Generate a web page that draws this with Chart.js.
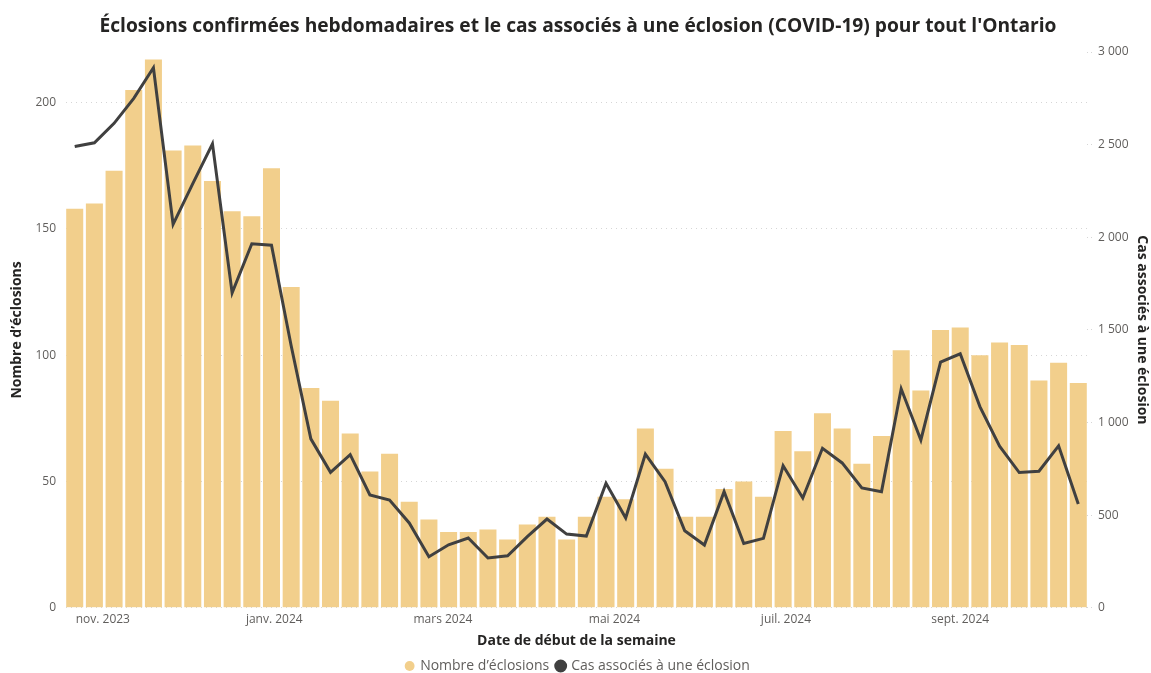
<!DOCTYPE html>
<html lang="fr">
<head>
    <meta charset="UTF-8">
    <title>Éclosions confirmées hebdomadaires</title>
    <style>
        html, body { margin: 0; padding: 0; background: #ffffff; }
        #wrap { width: 1151px; height: 673px; }
    </style>
</head>
<body>
    <div id="wrap"><canvas id="chart" width="1151" height="673"></canvas></div>

    <script src="https://cdn.jsdelivr.net/npm/chart.js"></script>
    <script>
        // week start dates (one bar per week)
        const weekStarts = [
            '2023-10-22', '2023-10-29', '2023-11-05', '2023-11-12', '2023-11-19', '2023-11-26',
            '2023-12-03', '2023-12-10', '2023-12-17', '2023-12-24', '2023-12-31',
            '2024-01-07', '2024-01-14', '2024-01-21', '2024-01-28',
            '2024-02-04', '2024-02-11', '2024-02-18', '2024-02-25',
            '2024-03-03', '2024-03-10', '2024-03-17', '2024-03-24', '2024-03-31',
            '2024-04-07', '2024-04-14', '2024-04-21', '2024-04-28',
            '2024-05-05', '2024-05-12', '2024-05-19', '2024-05-26',
            '2024-06-02', '2024-06-09', '2024-06-16', '2024-06-23', '2024-06-30',
            '2024-07-07', '2024-07-14', '2024-07-21', '2024-07-28',
            '2024-08-04', '2024-08-11', '2024-08-18', '2024-08-25',
            '2024-09-01', '2024-09-08', '2024-09-15', '2024-09-22', '2024-09-29',
            '2024-10-06', '2024-10-13'
        ];

        // Nombre d'éclosions (left axis)
        const outbreaks = [
            158, 160, 173, 205, 217, 181, 183, 169, 157, 155, 174, 127, 87,
            82, 69, 54, 61, 42, 35, 30, 30, 31, 27, 33, 36, 27,
            36, 44, 43, 71, 55, 36, 36, 47, 50, 44, 70, 62, 77,
            71, 57, 68, 102, 86, 110, 111, 100, 105, 104, 90, 97, 89
        ];

        // Cas associés à une éclosion (right axis)
        const cases = [
            2490, 2510, 2615, 2750, 2915, 2070, 2290, 2505, 1700, 1965, 1957, 1415, 912,
            731, 827, 609, 582, 458, 276, 340, 377, 269, 281, 384, 479, 398,
            387, 672, 485, 830, 681, 416, 339, 627, 347, 375, 767, 593, 861,
            782, 647, 627, 1182, 906, 1326, 1371, 1086, 872, 730, 737, 874, 560
        ];

        const monthTicks = ['2023-11-01', '2024-01-01', '2024-03-01', '2024-05-01', '2024-07-01', '2024-09-01'];
        const monthLabels = ['nov. 2023', 'janv. 2024', 'mars 2024', 'mai 2024', 'juil. 2024', 'sept. 2024'];

        const DAY = 86400000;
        const origin = Date.parse(weekStarts[0]);
        function dayOf(s) { return (Date.parse(s) - origin) / DAY; }

        const barPoints = weekStarts.map((d, i) => ({ x: dayOf(d), y: outbreaks[i] }));
        const linePoints = weekStarts.map((d, i) => ({ x: dayOf(d), y: cases[i] }));
        const tickDays = monthTicks.map(dayOf);

        const FONT = "'Open Sans', 'Noto Sans', sans-serif";
        const GRAY = '#605E5C';
        const DARK = '#252423';

        new Chart(document.getElementById('chart'), {
            data: {
                datasets: [
                    {
                        type: 'bar',
                        label: 'Nombre d\u2019éclosions',
                        data: barPoints,
                        yAxisID: 'y',
                        backgroundColor: '#F2CF8C',
                        borderWidth: 0,
                        barPercentage: 0.865,
                        categoryPercentage: 1.0,
                        pointStyle: 'circle',
                        order: 2
                    },
                    {
                        type: 'line',
                        label: 'Cas associés à une éclosion',
                        data: linePoints,
                        yAxisID: 'y2',
                        borderColor: '#404040',
                        backgroundColor: '#404040',
                        borderWidth: 3,
                        pointRadius: 0,
                        pointStyle: 'circle',
                        tension: 0,
                        order: 1
                    }
                ]
            },
            options: {
                responsive: false,
                animation: false,
                layout: { padding: { left: 5, right: 0, top: 6, bottom: -10 } },
                plugins: {
                    title: {
                        display: true,
                        text: "Éclosions confirmées hebdomadaires et le cas associés à une éclosion (COVID-19) pour tout l'Ontario",
                        color: DARK,
                        font: { family: FONT, size: 19.2, weight: 'bold' },
                        padding: { top: 9, bottom: 14 }
                    },
                    legend: {
                        position: 'bottom',
                        labels: {
                            sort: (a, b) => a.datasetIndex - b.datasetIndex,
                            usePointStyle: true,
                            boxWidth: 7,
                            boxHeight: 7,
                            padding: 8,
                            color: GRAY,
                            font: { family: FONT, size: 14 }
                        }
                    },
                    tooltip: { enabled: false }
                },
                scales: {
                    x: {
                        type: 'linear',
                        min: -3.1,
                        max: 360.1,
                        offset: false,
                        grid: { display: false, drawTicks: false, offset: false },
                        border: { display: false },
                        afterBuildTicks: axis => { axis.ticks = tickDays.map(v => ({ value: v })); },
                        ticks: {
                            color: GRAY,
                            font: { family: FONT, size: 12 },
                            padding: 5,
                            maxRotation: 0,
                            autoSkip: false,
                            callback: (v) => monthLabels[tickDays.indexOf(v)]
                        },
                        title: {
                            display: true,
                            text: 'Date de début de la semaine',
                            color: DARK,
                            font: { family: FONT, size: 14, weight: 'bold' },
                            padding: { top: 0, bottom: 2 }
                        }
                    },
                    y: {
                        position: 'left',
                        min: 0,
                        max: 220,
                        afterFit: axis => { axis.width = 61; },
                        grid: { color: '#D6D6D6', drawTicks: false },
                        border: { display: false, dash: [1, 4] },
                        ticks: {
                            stepSize: 50,
                            includeBounds: false,
                            color: GRAY,
                            padding: 10,
                            font: { family: FONT, size: 12 }
                        },
                        title: {
                            display: true,
                            text: 'Nombre d\u2019éclosions',
                            color: DARK,
                            font: { family: FONT, size: 14, weight: 'bold' },
                            padding: { top: 4, bottom: 4 }
                        }
                    },
                    y2: {
                        position: 'right',
                        min: 0,
                        max: 3000,
                        afterFit: axis => { axis.width = 64; },
                        grid: {
                            drawOnChartArea: false,
                            color: '#D6D6D6',
                            tickLength: 8,
                            tickBorderDash: [1, 3]
                        },
                        border: { display: false },
                        ticks: {
                            stepSize: 500,
                            color: GRAY,
                            padding: 3,
                            font: { family: FONT, size: 12 },
                            callback: v => String(v).replace(/\B(?=(\d{3})+(?!\d))/g, ' ')
                        },
                        title: {
                            display: true,
                            text: 'Cas associés à une éclosion',
                            color: DARK,
                            font: { family: FONT, size: 14, weight: 'bold' },
                            padding: { top: 1, bottom: 0 }
                        }
                    }
                }
            }
        });
    </script>
</body>
</html>
